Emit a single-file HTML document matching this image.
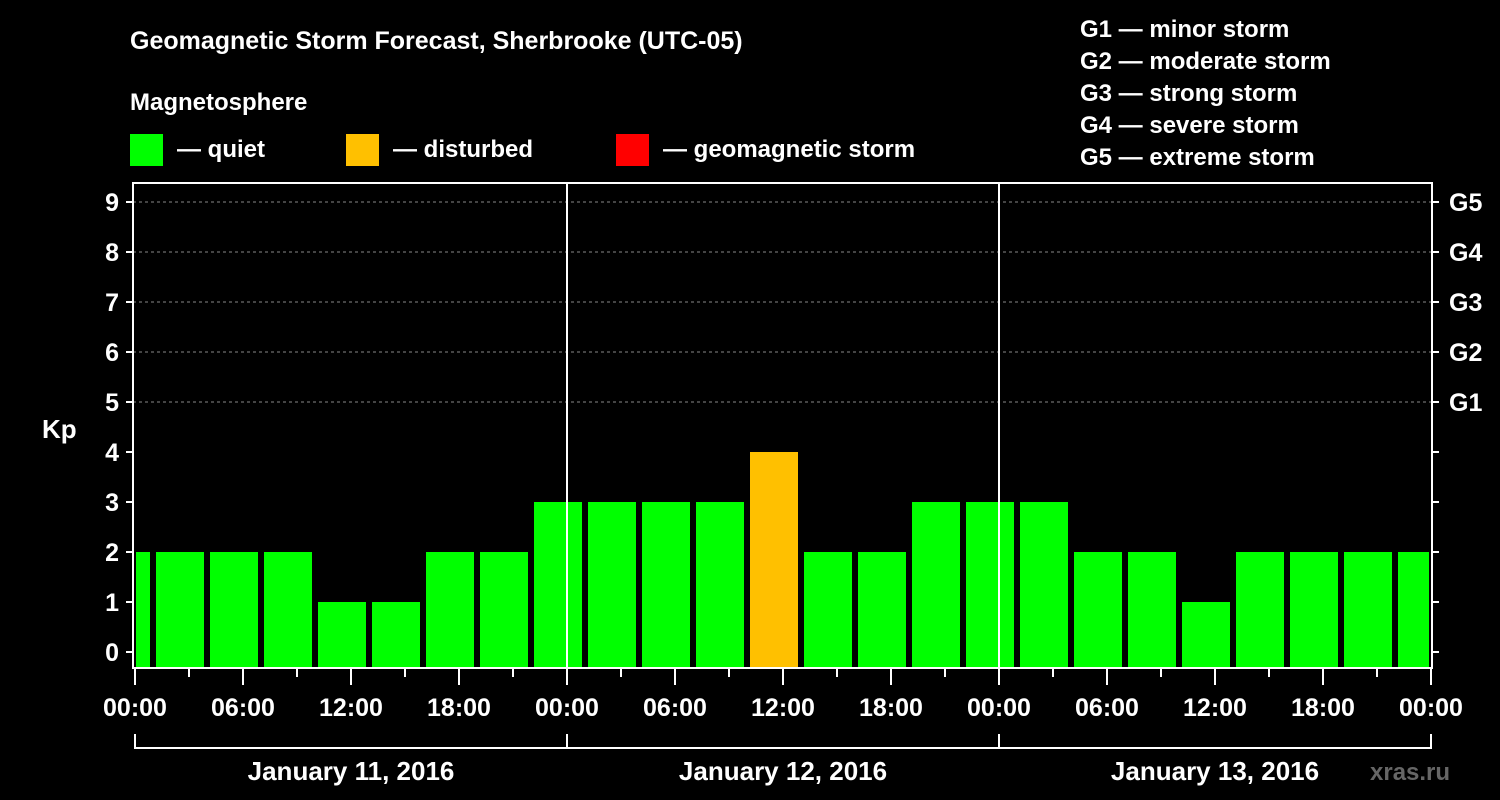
<!DOCTYPE html>
<html><head><meta charset="utf-8"><style>
html,body{margin:0;padding:0;background:#000;}
svg{display:block;font-family:"Liberation Sans",Arial,sans-serif;font-weight:bold;}
</style></head><body>
<svg id="chart" width="1500" height="800" xmlns="http://www.w3.org/2000/svg">
<rect width="1500" height="800" fill="#000"/>
<text x="130" y="49" fill="#fff" font-size="25">Geomagnetic Storm Forecast, Sherbrooke (UTC-05)</text>
<text x="130" y="110" fill="#fff" font-size="24">Magnetosphere</text>
<g><rect x="130" y="134" width="33" height="32" fill="#00ff00"/><text x="177" y="157" fill="#fff" font-size="24">— quiet</text></g>
<g><rect x="346" y="134" width="33" height="32" fill="#ffc000"/><text x="393" y="157" fill="#fff" font-size="24">— disturbed</text></g>
<g><rect x="616" y="134" width="33" height="32" fill="#ff0000"/><text x="663" y="157" fill="#fff" font-size="24">— geomagnetic storm</text></g>
<g fill="#fff" font-size="24">
<text x="1080" y="37">G1 — minor storm</text>
<text x="1080" y="69">G2 — moderate storm</text>
<text x="1080" y="101">G3 — strong storm</text>
<text x="1080" y="133">G4 — severe storm</text>
<text x="1080" y="165">G5 — extreme storm</text>
</g>
<text x="42" y="438" fill="#fff" font-size="26">Kp</text>
<text x="1370" y="780" fill="#666" font-size="24">xras.ru</text>
<g id="grid"></g><g id="bars"></g><g id="axes"></g>
</svg>
<script>
const kpValues=[2,2,2,2,1,1,2,2,3,3,3,3,4,2,2,3,3,3,2,2,1,2,2,2,2];
const blockStartHour=-2;
const yTicks=[0,1,2,3,4,5,6,7,8,9];
const gLabels=["G1","G2","G3","G4","G5"];
const timeLabels=["00:00","06:00","12:00","18:00","00:00","06:00","12:00","18:00","00:00","06:00","12:00","18:00","00:00"];
const dayLabels=["January 11, 2016","January 12, 2016","January 13, 2016"];
const NS="http://www.w3.org/2000/svg";
const L=133,R=1432,T=183,B=668;
const xs=h=>135+h*18;
const ys=v=>652-v*50;
function mk(tag,attrs,parent,text){const e=document.createElementNS(NS,tag);for(const k in attrs)e.setAttribute(k,attrs[k]);if(text!==undefined)e.textContent=text;parent.appendChild(e);return e;}
const grid=document.getElementById('grid'),bars=document.getElementById('bars'),axes=document.getElementById('axes');
yTicks.forEach(v=>{if(v>=5){const l=mk('line',{x1:L,x2:R,y1:ys(v),y2:ys(v),stroke:'#888','stroke-dasharray':'3,3','stroke-width':1},grid);

}});
kpValues.forEach((v,i)=>{const h0=blockStartHour+3*i;let x0=xs(h0)+3,x1=xs(h0+3)-3;x0=Math.max(x0,L+3);x1=Math.min(x1,R-3);
const c=v>=5?'#ff0000':(v>=4?'#ffc000':'#00ff00');
const r=mk('rect',{x:x0,y:ys(v),width:x1-x0,height:B-1-ys(v),fill:c},bars);

});
mk('rect',{x:L,y:T,width:R-L,height:B-T,fill:'none',stroke:'#fff','stroke-width':2},axes);
[24,48].forEach(h=>{mk('line',{x1:xs(h),x2:xs(h),y1:T,y2:B,stroke:'#fff','stroke-width':2},axes);});
yTicks.forEach(v=>{mk('line',{x1:L-7,x2:L,y1:ys(v),y2:ys(v),stroke:'#fff','stroke-width':2},axes);
mk('line',{x1:R,x2:R+7,y1:ys(v),y2:ys(v),stroke:'#fff','stroke-width':2},axes);
const t=mk('text',{x:L-14,y:ys(v)+9,fill:'#fff','font-size':25,'text-anchor':'end'},axes,String(v));

});
gLabels.forEach((g,i)=>{const t=mk('text',{x:1449,y:ys(5+i)+9,fill:'#fff','font-size':25},axes,g);

});
for(let h=0;h<=72;h+=3){mk('line',{x1:xs(h),x2:xs(h),y1:B,y2:B+(h%6===0?17:9),stroke:'#fff','stroke-width':2},axes);}
timeLabels.forEach((s,i)=>{const t=mk('text',{x:xs(i*6),y:716,fill:'#fff','font-size':25,'text-anchor':'middle'},axes,s);

});
mk('line',{x1:xs(0),x2:xs(72),y1:748,y2:748,stroke:'#fff','stroke-width':2},axes);
for(let d=0;d<=3;d++)mk('line',{x1:xs(d*24),x2:xs(d*24),y1:734,y2:749,stroke:'#fff','stroke-width':2},axes);
dayLabels.forEach((s,i)=>{const t=mk('text',{x:xs(i*24+12),y:780,fill:'#fff','font-size':26,'text-anchor':'middle'},axes,s);

});
</script>
</body></html>
